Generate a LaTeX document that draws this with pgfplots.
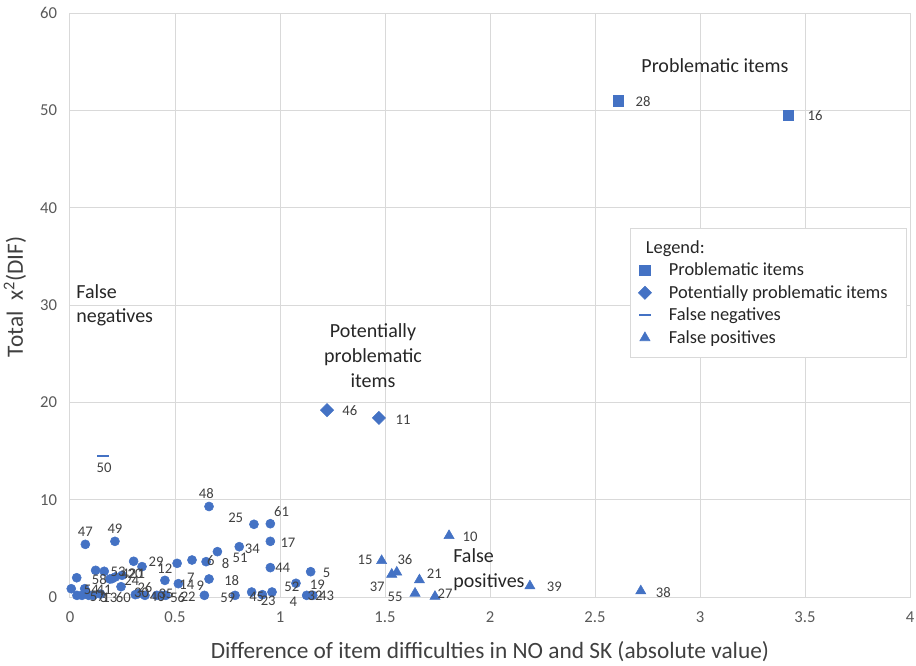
\documentclass[border=0pt]{standalone}
\usepackage{fontspec}
\setmainfont{Carlito}
\usepackage{pgfplots}
\pgfplotsset{compat=1.18}
\usepackage{pgfplotstable}
\definecolor{ms}{HTML}{4472C4}
\definecolor{gridc}{HTML}{D9D9D9}
\definecolor{tickc}{HTML}{595959}
\definecolor{lblc}{HTML}{404040}
\definecolor{txtc}{HTML}{262626}

\pgfplotstableread{
x y
2.61 51.0
3.42 49.5
}\probl
\pgfplotstableread{
x y
1.224 19.2
1.471 18.4
}\potprobl
\pgfplotstableread{
x y
0.157 14.5
}\falseneg
\pgfplotstableread{
x y
1.805 6.3
1.484 3.73
1.556 2.54
1.532 2.33
1.664 1.75
1.643 0.38
1.738 0.05
2.19 1.13
2.718 0.62
}\falsepos
\pgfplotstableread{
x y
0.662 9.30
0.876 7.47
0.954 7.53
0.954 5.72
0.806 5.17
0.702 4.66
0.073 5.41
0.214 5.72
0.954 3.02
1.146 2.60
1.076 1.41
1.127 0.17
1.156 0.17
0.962 0.51
0.916 0.24
0.865 0.51
0.786 0.17
0.662 1.85
0.648 3.63
0.581 3.80
0.510 3.46
0.303 3.67
0.343 3.12
0.452 1.71
0.516 1.37
0.032 1.98
0.122 2.74
0.163 2.64
0.200 1.88
0.216 2.06
0.248 2.23
0.006 0.85
0.033 0.17
0.070 0.85
0.057 0.17
0.089 0.17
0.243 1.06
0.311 0.24
0.325 0.34
0.357 0.17
0.413 0.17
0.436 0.17
0.640 0.17
0.190 1.85
0.456 0.17
0.110 0.17
0.145 0.30
}\others
\pgfplotstableread{
x y lbl
2.729 50.9 28
3.548 49.5 16
1.333 19.1 46
1.586 18.2 11
0.162 13.26 50
1.905 6.17 10
1.405 3.80 15
1.595 3.87 36
1.463 1.06 37
1.735 2.43 21
1.548 -0.03 55
1.786 0.31 27
2.306 1.06 39
2.825 0.48 38
0.649 10.66 48
0.789 8.09 25
1.008 8.77 61
1.038 5.62 17
0.868 4.93 34
0.810 3.98 51
0.741 3.46 8
0.671 3.70 6
1.013 3.05 44
1.222 2.50 5
1.178 1.23 19
1.056 1.00 52
1.063 -0.48 4
1.167 0.13 32
1.222 0.13 43
0.944 -0.38 23
0.889 -0.03 45
0.751 -0.03 59
0.770 1.68 18
0.556 1.30 14
0.621 1.20 9
0.575 2.02 7
0.452 2.91 12
0.410 3.60 29
0.563 0.03 22
0.513 -0.03 56
0.457 0.31 35
0.416 0.03 40
0.341 0.48 30
0.357 1.00 26
0.294 1.68 24
0.073 6.70 47
0.214 7.01 49
0.140 1.75 58
0.102 0.72 54
0.162 0.72 41
0.130 -0.03 57
0.160 -0.03 3
0.190 -0.03 13
0.254 -0.03 60
0.229 2.55 53
0.280 2.40 42
0.310 2.35 20
0.340 2.35 1
}\labels

\begin{document}
\begin{tikzpicture}
\useasboundingbox (-52.5pt,-51pt) rectangle (634.5pt,447.75pt);
\begin{axis}[
  at={(0pt,0pt)}, anchor=south west,
  scale only axis, width=630pt, height=438pt,
  xmin=0, xmax=4, ymin=0, ymax=60,
  xtick distance=0.5, ytick distance=10,
  grid=major, major grid style={draw=gridc, line width=0.75pt},
  axis line style={draw=gridc, line width=0.75pt},
  major tick length=0pt,
  tick label style={font=\fontsize{12.5}{14}\selectfont, text=tickc, inner sep=0pt},
  xticklabel style={anchor=center, yshift=-15pt},
  yticklabel style={anchor=east, xshift=-9.5pt},
  /pgf/number format/assume math mode=true,
  xlabel={Difference of item difficulties in NO and SK (absolute value)},
  ylabel={Total\ \ x\textsuperscript{2}(DIF)},
  label style={font=\fontsize{17.5}{20}\selectfont, text=lblc},
  xlabel style={at={(axis description cs:0.5,-0.0942)}, anchor=center},
  ylabel style={at={(axis description cs:-0.0655,0.514)}, anchor=center},
  clip=false,
  legend cell align=left,
  legend style={at={(axis cs:2.667,37.9)}, anchor=north west,
    draw=gridc, fill=white, font=\fontsize{13.8}{16}\selectfont, text=txtc,
    inner xsep=6pt, inner ysep=7pt, row sep=1.8pt},
  legend image code/.code={\path (0pt,0pt) (19.25pt,0pt); \draw[#1] plot coordinates {(3.5pt,0pt)};},
]
\addlegendimage{empty legend}
\addlegendentry{\hspace*{-17.25pt}Legend:}
\addplot[only marks, mark=square*, mark size=4pt, color=ms] table {\probl};
\addlegendentry{Problematic items}
\addplot[only marks, mark=square*, mark size=3.5pt, color=ms, mark options={rotate=45}] table {\potprobl};
\addlegendentry{Potentially problematic items\hspace*{6pt}}
\addplot[only marks, mark=-, mark size=4.5pt, color=ms, mark options={line width=1.5pt}] table {\falseneg};
\addlegendentry{False negatives}
\addplot[only marks, mark=triangle*, mark size=4.4pt, color=ms] table {\falsepos};
\addlegendentry{False positives}
\addplot[only marks, mark=*, mark size=3.4pt, color=ms, forget plot] table {\others};
\addplot[only marks, mark=none, forget plot, point meta=explicit symbolic,
  nodes near coords,
  nodes near coords style={anchor=center, inner sep=0pt, font=\fontsize{11}{12}\selectfont, text=lblc}]
  table[meta=lbl] {\labels};
\node[font=\fontsize{15}{18}\selectfont, text=txtc] at (axis cs:3.071,54.6) {Problematic items};
\node[font=\fontsize{15}{18.4}\selectfont, text=txtc, align=center] at (axis cs:1.443,24.8) {Potentially\\problematic\\items};
\node[font=\fontsize{15}{18.4}\selectfont, text=txtc, align=left, anchor=west, inner sep=0pt] at (axis cs:0.029,29.96) {False\\negatives};
\node[font=\fontsize{15}{18.4}\selectfont, text=txtc, align=left, anchor=west, inner sep=0pt] at (axis cs:1.824,2.83) {False\\positives};
\end{axis}
\end{tikzpicture}
\end{document}
